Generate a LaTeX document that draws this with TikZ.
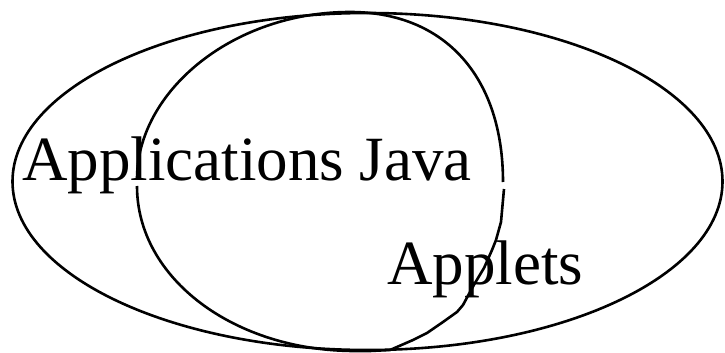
\documentclass[tikz,border=0pt]{standalone}
\usepackage{fontspec}
\setmainfont{Liberation Serif}
\begin{document}
\begin{tikzpicture}[x=1pt,y=-1pt,
    set/.style={line width=2.6pt,line join=round},
    setname/.style={anchor=base west,inner sep=0pt,font=\fontsize{63}{63}\selectfont}]
  \useasboundingbox (0,0) rectangle (725,353);

  % outer set
  \draw[set] (367.5,181.5) ellipse [x radius=355,y radius=168.5];

  % inner set, drawn in three strokes
  \draw[set] (503,182) .. controls (503,77) and (445,12) .. (350,12)
    .. controls (232,12) and (137,92) .. (137,179);
  \draw[set] (504,189) -- (503,200) -- (501,222) -- (496,240) -- (492,250) -- (484,268)
    -- (475,283) -- (470,292) -- (463,305) -- (457,312) -- (443,322) -- (427,333)
    -- (413,340) -- (390,350) -- (370,351);
  \draw[set] (370,351) -- (355,351) .. controls (235,351) and (137,279) .. (137,186);

  \node[setname] (apps) at (22,180) {Applications Java};
  \node[setname] (applets) at (387,284) {Applets};
\end{tikzpicture}
\end{document}
